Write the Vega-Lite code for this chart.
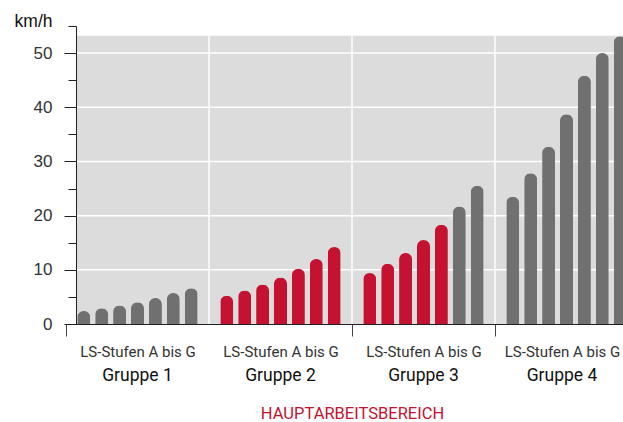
{
  "$schema": "https://vega.github.io/schema/vega-lite/v6.json",
  "autosize": {"type": "none"},
  "padding": {"left": 76, "top": 26, "right": 0, "bottom": 98},
  "width": 547,
  "height": 298,
  "background": "white",
  "config": {"view": {"stroke": null}},
  "resolve": {"axis": {"x": "independent", "y": "independent"}},
  "layer": [
    {
      "data": {"values": [{"lo": 0, "hi": 53.2}]},
      "mark": {"type": "rect", "color": "#dcdcdc"},
      "encoding": {
        "y": {"field": "lo", "type": "quantitative", "scale": {"domain": [0, 55], "nice": false, "zero": true}, "axis": null},
        "y2": {"field": "hi"}
      }
    },
    {
      "data": {"values": [{"v": 10}, {"v": 20}, {"v": 30}, {"v": 40}, {"v": 50}]},
      "mark": {"type": "rule", "color": "#ffffff", "strokeWidth": 1.5},
      "encoding": {
        "y": {
          "field": "v", "type": "quantitative",
          "axis": {
            "orient": "left",
            "values": [5, 15, 25, 35, 45, 55],
            "labels": false,
            "domain": false,
            "grid": false,
            "title": null,
            "tickSize": 8,
            "tickColor": "#222222",
            "zindex": 1
          }
        }
      }
    },
    {
      "data": {"values": [{"gruppe": "Gruppe 2"}, {"gruppe": "Gruppe 3"}, {"gruppe": "Gruppe 4"}]},
      "mark": {"type": "rule", "color": "#ffffff", "strokeWidth": 1.5},
      "encoding": {
        "x": {
          "field": "gruppe", "type": "nominal", "bandPosition": 0,
          "scale": {"domain": ["Gruppe 1", "Gruppe 2", "Gruppe 3", "Gruppe 4"], "range": [-10, 562], "paddingInner": 0, "paddingOuter": 0},
          "axis": {
            "orient": "bottom",
            "title": "HAUPTARBEITSBEREICH",
            "titleColor": "#c41230",
            "titleFont": "Roboto",
            "titleFontSize": 16.5,
            "titleFontWeight": "normal",
            "titlePadding": 21,
            "labelFont": "Roboto",
            "labelFontSize": 17.5,
            "labelColor": "#111111",
            "labelAngle": 0,
            "labelPadding": 42.5,
            "labelOffset": {"condition": {"test": "datum.value === 'Gruppe 4'", "value": -4.5}, "value": 0},
            "ticks": false,
            "domain": false,
            "grid": false
          }
        },
        "y": {"datum": 0, "type": "quantitative", "axis": null},
        "y2": {"datum": 53.2}
      }
    },
    {
      "data": {"values": [
        {"gruppe": "Gruppe 1", "stufe": "A", "kmh": 2.4, "bereich": "Neben"},
        {"gruppe": "Gruppe 1", "stufe": "B", "kmh": 2.9, "bereich": "Neben"},
        {"gruppe": "Gruppe 1", "stufe": "C", "kmh": 3.4, "bereich": "Neben"},
        {"gruppe": "Gruppe 1", "stufe": "D", "kmh": 4.0, "bereich": "Neben"},
        {"gruppe": "Gruppe 1", "stufe": "E", "kmh": 4.8, "bereich": "Neben"},
        {"gruppe": "Gruppe 1", "stufe": "F", "kmh": 5.7, "bereich": "Neben"},
        {"gruppe": "Gruppe 1", "stufe": "G", "kmh": 6.6, "bereich": "Neben"},
        {"gruppe": "Gruppe 2", "stufe": "A", "kmh": 5.2, "bereich": "Haupt"},
        {"gruppe": "Gruppe 2", "stufe": "B", "kmh": 6.2, "bereich": "Haupt"},
        {"gruppe": "Gruppe 2", "stufe": "C", "kmh": 7.3, "bereich": "Haupt"},
        {"gruppe": "Gruppe 2", "stufe": "D", "kmh": 8.6, "bereich": "Haupt"},
        {"gruppe": "Gruppe 2", "stufe": "E", "kmh": 10.2, "bereich": "Haupt"},
        {"gruppe": "Gruppe 2", "stufe": "F", "kmh": 12.0, "bereich": "Haupt"},
        {"gruppe": "Gruppe 2", "stufe": "G", "kmh": 14.2, "bereich": "Haupt"},
        {"gruppe": "Gruppe 3", "stufe": "A", "kmh": 9.4, "bereich": "Haupt"},
        {"gruppe": "Gruppe 3", "stufe": "B", "kmh": 11.1, "bereich": "Haupt"},
        {"gruppe": "Gruppe 3", "stufe": "C", "kmh": 13.1, "bereich": "Haupt"},
        {"gruppe": "Gruppe 3", "stufe": "D", "kmh": 15.5, "bereich": "Haupt"},
        {"gruppe": "Gruppe 3", "stufe": "E", "kmh": 18.3, "bereich": "Haupt"},
        {"gruppe": "Gruppe 3", "stufe": "F", "kmh": 21.7, "bereich": "Neben"},
        {"gruppe": "Gruppe 3", "stufe": "G", "kmh": 25.5, "bereich": "Neben"},
        {"gruppe": "Gruppe 4", "stufe": "A", "kmh": 23.5, "bereich": "Neben"},
        {"gruppe": "Gruppe 4", "stufe": "B", "kmh": 27.8, "bereich": "Neben"},
        {"gruppe": "Gruppe 4", "stufe": "C", "kmh": 32.7, "bereich": "Neben"},
        {"gruppe": "Gruppe 4", "stufe": "D", "kmh": 38.7, "bereich": "Neben"},
        {"gruppe": "Gruppe 4", "stufe": "E", "kmh": 45.8, "bereich": "Neben"},
        {"gruppe": "Gruppe 4", "stufe": "F", "kmh": 50.0, "bereich": "Neben"},
        {"gruppe": "Gruppe 4", "stufe": "G", "kmh": 53.1, "bereich": "Neben"}
      ]},
      "mark": {"type": "bar", "cornerRadiusTopLeft": 6.5, "cornerRadiusTopRight": 6.5},
      "encoding": {
        "x": {
          "field": "gruppe", "type": "nominal",
          "axis": {
            "orient": "bottom",
            "title": null,
            "labelExpr": "datum.label ? 'LS-Stufen A bis G' : ''",
            "labelFont": "Roboto",
            "labelFontSize": 15,
            "labelColor": "#333333",
            "labelAngle": 0,
            "labelPadding": 8,
            "labelOffset": {"condition": {"test": "datum.value === 'Gruppe 4'", "value": -4.5}, "value": 0},
            "tickBand": "extent",
            "tickSize": 12,
            "tickColor": "#444444",
            "tickOpacity": {"condition": {"test": "datum.value === 'Gruppe 1'", "value": 0}, "value": 1},
            "domainColor": "#222222",
            "grid": false,
            "zindex": 1
          }
        },
        "xOffset": {"field": "stufe", "type": "nominal", "scale": {"paddingInner": 0.274, "paddingOuter": 0.63}},
        "y": {
          "field": "kmh", "type": "quantitative",
          "axis": {
            "orient": "left",
            "title": "km/h",
            "values": [0, 10, 20, 30, 40, 50],
            "tickSize": 12,
            "tickColor": "#222222",
            "domainColor": "#222222",
            "labelFont": "Liberation Sans",
            "labelFontSize": 17,
            "labelColor": "#333333",
            "labelPadding": 12,
            "grid": false,
            "titleAngle": 0,
            "titleX": -24,
            "titleY": 0,
            "titleAlign": "right",
            "titleBaseline": "alphabetic",
            "titleFont": "Liberation Sans",
            "titleFontSize": 17.5,
            "titleFontWeight": "normal",
            "titleColor": "#111111",
            "zindex": 1
          }
        },
        "color": {
          "field": "bereich", "type": "nominal",
          "scale": {"domain": ["Haupt", "Neben"], "range": ["#c41230", "#707070"]},
          "legend": null
        }
      }
    }
  ]
}
